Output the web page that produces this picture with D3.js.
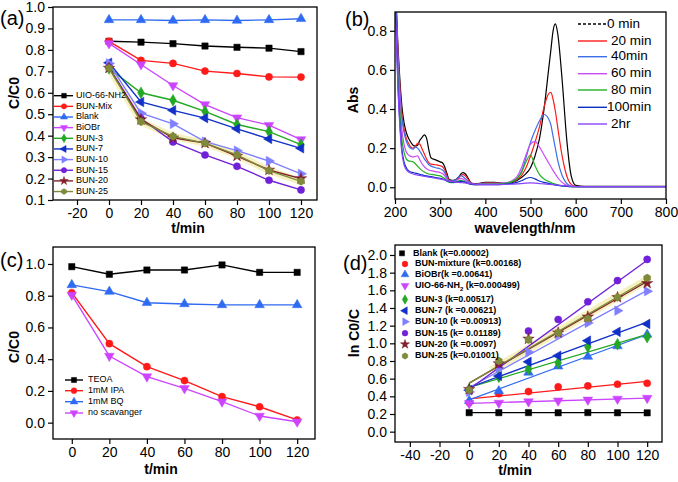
<!DOCTYPE html>
<html><head><meta charset="utf-8">
<script src="https://cdn.jsdelivr.net/npm/d3@7"></script>
<style>body{margin:0;background:#fff}svg{display:block;font-family:Arial,"Liberation Sans",sans-serif}</style>
</head><body><svg id="c" width="678" height="482"></svg>
<script>
// ---------- DATA ----------
const times = [0, 20, 40, 60, 80, 100, 120];

// panel (a)
const namesA = ["UIO-66-NH2","BUN-Mix","Blank","BiOBr","BUN-3","BUN-7","BUN-10","BUN-15","BUN-20","BUN-25"];
const uioA   = [0.840,0.836,0.829,0.818,0.812,0.808,0.792];
const mixA   = [0.840,0.751,0.737,0.701,0.690,0.674,0.673];
const blankA = [0.940,0.940,0.937,0.940,0.937,0.940,0.945];
const biobrA = [0.830,0.732,0.634,0.545,0.484,0.449,0.382];
const bun3A  = [0.714,0.600,0.565,0.513,0.452,0.419,0.358];
const bun7A  = [0.740,0.557,0.518,0.482,0.432,0.385,0.341];
const bun10A = [0.737,0.505,0.455,0.372,0.330,0.282,0.222];
const bun15A = [0.720,0.480,0.371,0.310,0.257,0.192,0.147];
const bun20A = [0.715,0.475,0.390,0.365,0.305,0.240,0.200];
const bun25A = [0.715,0.465,0.397,0.365,0.310,0.237,0.187];
const xTicksA = [-20,0,20,40,60,80,100,120];
const yTicksA = [0.1,0.2,0.3,0.4,0.5,0.6,0.7,0.8,0.9,1.0];

// panel (b)
const namesB = ["0 min","20 min","40min","60 min","80 min","100min","2hr"];
const wl = [200,203,206,210,215,220,225,230,235,240,245,250,255,260,265,270,275,280,290,300,305,310,315,320,330,340,345,350,355,360,370,380,400,420,440,460,470,480,490,500,510,520,530,540,545,550,555,560,570,580,590,600,620,700,800];
const abs0 = [1.0,0.92,0.75,0.58,0.42, 0.33,0.28,0.25,0.23,0.215, 0.21,0.215,0.24,0.255,0.268, 0.25,0.19,0.15,0.14,0.13, 0.125,0.105,0.07,0.04,0.035, 0.05,0.065,0.075,0.07,0.055, 0.02,0.018,0.025,0.025,0.02, 0.025,0.035,0.05,0.07,0.1, 0.16,0.25,0.4,0.6,0.7, 0.8,0.835,0.79,0.55,0.25, 0.06,0.01,0.005,0.005,0.005];
const abs20 = [1.0,0.9,0.72,0.55,0.38, 0.3,0.25,0.225,0.205,0.2, 0.21,0.225,0.22,0.195,0.17, 0.145,0.125,0.118,0.115,0.11, 0.105,0.09,0.06,0.035,0.03, 0.045,0.058,0.065,0.06,0.045, 0.02,0.016,0.022,0.022,0.02, 0.028,0.04,0.06,0.1,0.16, 0.23,0.31,0.41,0.478,0.485, 0.45,0.39,0.31,0.16,0.06, 0.015,0.005,0.003,0.003,0.003];
const abs40 = [1.0,0.88,0.7,0.52,0.36, 0.28,0.235,0.21,0.198,0.195, 0.205,0.2,0.185,0.165,0.145, 0.13,0.115,0.108,0.1,0.095, 0.088,0.075,0.05,0.032,0.033, 0.05,0.06,0.055,0.045,0.035, 0.018,0.015,0.02,0.02,0.02, 0.03,0.045,0.08,0.15,0.23, 0.29,0.34,0.372,0.35,0.32, 0.26,0.2,0.14,0.06,0.02, 0.006,0.003,0.003,0.003,0.003];
const abs60 = [1.0,0.85,0.66,0.48,0.3, 0.22,0.18,0.165,0.158,0.155, 0.158,0.16,0.14,0.12,0.105, 0.095,0.088,0.085,0.08,0.075, 0.07,0.06,0.04,0.028,0.028, 0.04,0.045,0.042,0.035,0.028, 0.016,0.014,0.018,0.018,0.02, 0.035,0.055,0.1,0.165,0.22, 0.235,0.205,0.165,0.125,0.105, 0.085,0.068,0.05,0.025,0.01, 0.004,0.003,0.003,0.003,0.003];
const abs80 = [1.0,0.82,0.6,0.42,0.25, 0.18,0.145,0.135,0.133,0.13, 0.12,0.108,0.095,0.085,0.078, 0.072,0.068,0.066,0.062,0.058, 0.052,0.045,0.032,0.025,0.024, 0.032,0.035,0.033,0.028,0.022, 0.014,0.013,0.016,0.016,0.018, 0.03,0.045,0.075,0.13,0.165, 0.11,0.065,0.042,0.03,0.025, 0.02,0.016,0.012,0.007,0.004, 0.003,0.003,0.003,0.003,0.003];
const abs100 = [1.0,0.8,0.56,0.36,0.2, 0.13,0.1,0.085,0.078,0.075, 0.072,0.07,0.066,0.063,0.06, 0.058,0.056,0.054,0.05,0.046, 0.043,0.038,0.032,0.028,0.025, 0.028,0.03,0.029,0.026,0.022, 0.015,0.013,0.014,0.014,0.015, 0.02,0.025,0.033,0.045,0.05, 0.043,0.032,0.025,0.02,0.017, 0.014,0.012,0.01,0.007,0.005, 0.003,0.003,0.003,0.003,0.003];
const abs120 = [1.0,0.78,0.54,0.34,0.18, 0.115,0.09,0.078,0.072,0.068, 0.065,0.062,0.06,0.058,0.056, 0.054,0.052,0.05,0.046,0.042, 0.04,0.037,0.034,0.031,0.027, 0.025,0.024,0.023,0.022,0.02, 0.017,0.015,0.013,0.013,0.014, 0.016,0.017,0.019,0.021,0.022, 0.021,0.019,0.017,0.015,0.014, 0.013,0.012,0.011,0.009,0.007, 0.005,0.004,0.003,0.003,0.003];
const xTicksB = [200,300,400,500,600,700,800];
const yTicksB = [0.0,0.2,0.4,0.6,0.8];

// panel (c)
const namesC = ["TEOA","1mM IPA","1mM BQ","no scavanger"];
const teoaC = [0.983,0.935,0.962,0.962,0.994,0.947,0.947];
const ipaC  = [0.819,0.498,0.353,0.265,0.164,0.100,0.017];
const bqC   = [0.868,0.826,0.756,0.748,0.742,0.742,0.742];
const noneC = [0.805,0.420,0.290,0.216,0.132,0.042,0.006];
const xTicksC = [0,20,40,60,80,100,120];
const yTicksC = [0.0,0.2,0.4,0.6,0.8,1.0];

// panel (d)
const namesD = ["Blank (k=0.00002)","BUN-mixture (k=0.00168)","BiOBr(k =0.00641)","UIO-66-NH","BUN-3 (k=0.00517)","BUN-7 (k =0.00621)","BUN-10 (k =0.00913)","BUN-15 (k= 0.01189)","BUN-20 (k =0.0097)","BUN-25 (k=0.01001)"];
const blankD = [0.215,0.215,0.216,0.214,0.216,0.214,0.213];
const mixD   = [0.33,0.43,0.454,0.507,0.518,0.537,0.548];
const biobrD = [0.35,0.46,0.67,0.74,0.85,0.97,1.10];
const uioD   = [0.32,0.325,0.34,0.35,0.36,0.37,0.38];
const bun3D  = [0.48,0.62,0.71,0.78,0.96,0.99,1.07];
const bun7D  = [0.47,0.63,0.79,0.86,1.03,1.13,1.22];
const bun10D = [0.45,0.72,0.90,1.10,1.23,1.37,1.59];
const bun15D = [0.47,0.76,1.14,1.27,1.47,1.71,1.95];
const bun20D = [0.48,0.77,1.05,1.12,1.30,1.52,1.68];
const bun25D = [0.47,0.80,1.04,1.12,1.28,1.52,1.74];
const fitStartD = [0.215,0.37,0.36,0.32,0.50,0.50,0.50,0.48,0.55,0.55];
const fitEndD   = [0.215,0.57,1.10,0.38,1.10,1.24,1.60,1.94,1.70,1.72];
const xTicksD = [-40,-20,0,20,40,60,80,100,120];
const yTicksD = [0.0,0.2,0.4,0.6,0.8,1.0,1.2,1.4,1.6,1.8,2.0];

// ---------- STYLE ----------
const C = {black:"#000000", red:"#ff1a1a", blue:"#2f6bf2", mag:"#cc44ff", green:"#22a822",
  navy:"#1030c8", lilac:"#7f7fff", purple:"#7020d8", wine:"#801f2a", olive:"#7f8a3a"};

const svg = d3.select("#c");

const hexagon = {draw(ctx, size){const r=Math.sqrt(size/2.6);for(let i=0;i<6;i++){const a=Math.PI/3*i+Math.PI/6;const px=r*Math.cos(a),py=r*Math.sin(a);i?ctx.lineTo(px,py):ctx.moveTo(px,py);}ctx.closePath();}};
function sym(type){
  const m = {
    square:[d3.symbolSquare,0], circle:[d3.symbolCircle,0], up:[d3.symbolTriangle,0],
    down:[d3.symbolTriangle,180], diamond:[d3.symbolDiamond,0], left:[d3.symbolTriangle,-90],
    right:[d3.symbolTriangle,90], star:[d3.symbolStar,0], hex:[hexagon,0]};
  return m[type];
}
function drawSym(g, type, cx, cy, color, size){
  const [t, rot] = sym(type);
  g.append("path").attr("d", d3.symbol(t, size)())
    .attr("transform", `translate(${cx},${cy}) rotate(${rot})`)
    .attr("fill", color).attr("stroke", color).attr("stroke-width", 0.5);
}

function axes(g, x, y, xt, xm, yt, ym, fx, fy){
  const [y0] = y.range(); const [x0] = x.range();
  const gx = g.append("g").attr("transform", `translate(0,${y0})`);
  gx.call(d3.axisBottom(x).tickValues(xm).tickSize(3).tickFormat("")).call(s=>s.select(".domain").remove());
  gx.call(d3.axisBottom(x).tickValues(xt).tickSize(5).tickPadding(3).tickFormat(fx))
    .call(s=>s.select(".domain").remove());
  const gy = g.append("g").attr("transform", `translate(${x0},0)`);
  gy.call(d3.axisLeft(y).tickValues(ym).tickSize(3).tickFormat("")).call(s=>s.select(".domain").remove());
  gy.call(d3.axisLeft(y).tickValues(yt).tickSize(5).tickPadding(3).tickFormat(fy))
    .call(s=>s.select(".domain").remove());
  g.selectAll(".tick line").attr("stroke","#000").attr("stroke-width",1.2);
  g.selectAll(".tick text").attr("font-size",14).attr("font-family","Arial, 'Liberation Sans', sans-serif").attr("fill","#000");
  const xr = x.range(), yr = y.range();
  g.append("rect").attr("x", xr[0]).attr("y", yr[1]).attr("width", xr[1]-xr[0]).attr("height", yr[0]-yr[1])
    .attr("fill","none").attr("stroke","#000").attr("stroke-width",1.3);
}
function title(g, txt, x, y, rot){
  const t = g.append("text").attr("x",x).attr("y",y).attr("text-anchor","middle").attr("font-weight","bold")
    .attr("font-size",14).attr("dominant-baseline","middle").text(txt);
  if (rot) t.attr("transform", `rotate(-90,${x},${y})`);
}
function label(txt, x, y){
  svg.append("text").attr("x",x).attr("y",y).attr("font-size",20).text(txt);
}
const f1 = d3.format(".1f");
const fInt = d => String(d);
const minorRange = (a,b,s) => d3.range(a, b+s/2, s);

// ---------- PANEL A ----------
{
  const g = svg.append("g");
  const x = d3.scaleLinear().domain([-35,130]).range([53,317]);
  const y = d3.scaleLinear().domain([0.1,1.0]).range([200,7]);
  const series = [
    [uioA,C.black,"square"],[mixA,C.red,"circle"],[blankA,C.blue,"up"],[biobrA,C.mag,"down"],
    [bun3A,C.green,"diamond"],[bun7A,C.navy,"left"],[bun10A,C.lilac,"right"],[bun15A,C.purple,"circle"],
    [bun20A,C.wine,"star"],[bun25A,C.olive,"hex"]];
  const line = d3.line().x((d,i)=>x(times[i])).y(d=>y(d));
  g.append("path").attr("d", line(bun25A)).attr("fill","none").attr("stroke","#f3eeb0").attr("stroke-width",7).attr("opacity",0.8);
  series.forEach(([v,c,s])=>{
    g.append("path").attr("d", line(v)).attr("fill","none").attr("stroke",c).attr("stroke-width",1.4);
    v.forEach((d,i)=>drawSym(g,s,x(times[i]),y(d),c,40));
  });
  axes(g, x, y, xTicksA, minorRange(-30,120,10), yTicksA, minorRange(0.15,0.95,0.1), fInt, f1);
  const ly0 = 95.7, dy = 10.65;
  series.forEach(([v,c,s],i)=>{
    const yy = ly0 + i*dy;
    g.append("line").attr("x1",54).attr("x2",73).attr("y1",yy).attr("y2",yy).attr("stroke",c).attr("stroke-width",1.4);
    drawSym(g,s,64,yy,c,22);
    g.append("text").attr("x",76).attr("y",yy).attr("dominant-baseline","middle").attr("font-size",9).text(namesA[i]);
  });
  title(g, "C/C0", 15, 93, true);
  title(g, "t/min", 188, 229, false);
  label("(a)", 0, 25);
}

// ---------- PANEL B ----------
{
  const g = svg.append("g");
  const x = d3.scaleLinear().domain([200,800]).range([395,666]);
  const y = d3.scaleLinear().domain([-0.06,0.896]).range([199,12]);
  svg.append("clipPath").attr("id","clipB").append("rect").attr("x",395).attr("y",12).attr("width",271).attr("height",187);
  const curves = [[abs0,"#000000"],[abs20,C.red],[abs40,"#3b6fe8"],[abs60,"#c94cf2"],[abs80,"#22b022"],[abs100,"#0a2fc0"],[abs120,"#8844ff"]];
  const line = d3.line().x((d,i)=>x(wl[i])).y(d=>y(d)).curve(d3.curveMonotoneX);
  const cg = g.append("g").attr("clip-path","url(#clipB)");
  curves.forEach(([v,c])=>{
    cg.append("path").attr("d", line(v)).attr("fill","none").attr("stroke",c).attr("stroke-width",1.2);
  });
  axes(g, x, y, xTicksB, minorRange(250,750,100), yTicksB, minorRange(0.1,0.7,0.2), fInt, f1);
  const ly = [24,41,56.7,73.7,90,107.3,124];
  curves.forEach(([v,c],i)=>{
    const l = g.append("line").attr("x1",578).attr("x2",607).attr("y1",ly[i]).attr("y2",ly[i]).attr("stroke",c).attr("stroke-width",1.4);
    if (i===0) l.attr("stroke-dasharray","3,2");
    g.append("text").attr("x", i===0?607:i===5?607:611).attr("y",ly[i]).attr("dominant-baseline","middle").attr("font-size",13.5).text(namesB[i]);
  });
  title(g, "Abs", 354, 100, true);
  title(g, "wavelength/nm", 525, 229, false);
  label("(b)", 345, 26);
}

// ---------- PANEL C ----------
{
  const g = svg.append("g");
  const x = d3.scaleLinear().domain([-10,129.5]).range([53,315]);
  const y = d3.scaleLinear().domain([-0.103,1.107]).range([439,247]);
  const series = [[teoaC,C.black,"square"],[ipaC,C.red,"circle"],[bqC,"#2f6bf2","up"],[noneC,"#cc44ff","down"]];
  const line = d3.line().x((d,i)=>x(times[i])).y(d=>y(d));
  series.forEach(([v,c,s])=>{
    g.append("path").attr("d", line(v)).attr("fill","none").attr("stroke",c).attr("stroke-width",1.4);
    v.forEach((d,i)=>drawSym(g,s,x(times[i]),y(d),c,40));
  });
  axes(g, x, y, xTicksC, minorRange(-10,130,10), yTicksC, minorRange(-0.1,1.1,0.2), fInt, f1);
  const ly = [380,390.7,401.7,413];
  series.forEach(([v,c,s],i)=>{
    g.append("line").attr("x1",65).attr("x2",83).attr("y1",ly[i]).attr("y2",ly[i]).attr("stroke",c).attr("stroke-width",1.4);
    drawSym(g,s,74,ly[i],c,26);
    g.append("text").attr("x",88).attr("y",ly[i]).attr("dominant-baseline","middle").attr("font-size",9).text(namesC[i]);
  });
  title(g, "C/C0", 15, 347, true);
  title(g, "t/min", 161, 470, false);
  label("(c)", 0, 267);
}

// ---------- PANEL D ----------
{
  const g = svg.append("g");
  const x = d3.scaleLinear().domain([-50,130]).range([395,662]);
  const y = d3.scaleLinear().domain([-0.117,2.113]).range([442,245]);
  const series = [
    [blankD,C.black,"square"],[mixD,C.red,"circle"],[biobrD,"#2f6bf2","up"],[uioD,"#cc44ff","down"],
    [bun3D,C.green,"diamond"],[bun7D,C.navy,"left"],[bun10D,C.lilac,"right"],[bun15D,C.purple,"circle"],
    [bun20D,C.wine,"star"],[bun25D,C.olive,"hex"]];
  g.append("line").attr("x1",x(15)).attr("x2",x(120)).attr("y1",y(0.55+(1.72-0.55)*15/120)).attr("y2",y(1.72))
    .attr("stroke","#f3eeb0").attr("stroke-width",8).attr("opacity",0.8);
  series.forEach(([v,c,s],k)=>{
    g.append("line").attr("x1",x(0)).attr("x2",x(120)).attr("y1",y(fitStartD[k])).attr("y2",y(fitEndD[k]))
      .attr("stroke",c).attr("stroke-width",1.3);
  });
  series.forEach(([v,c,s])=>{
    v.forEach((d,i)=>drawSym(g,s,x(times[i]),y(d),c,40));
  });
  axes(g, x, y, xTicksD, minorRange(-50,130,10), yTicksD, minorRange(0.1,1.9,0.2), fInt, f1);
  const ly = [253.3,264,274.5,285.7,299.5,310.7,321.7,333.2,344.3,356];
  series.forEach(([v,c,s],i)=>{
    drawSym(g,s,i===0?402:405,ly[i],c,26);
    const t = g.append("text").attr("x",i===0?413:415).attr("y",ly[i]).attr("dominant-baseline","middle")
      .attr("font-size",9).attr("font-weight","bold");
    if (i===3){
      t.append("tspan").text("UIO-66-NH");
      t.append("tspan").attr("font-size",6).attr("dy",3).text("2");
      t.append("tspan").attr("dy",-3).text(" (k=0.000499)");
    } else t.text(namesD[i]);
  });
  title(g, "ln C0/C", 355, 333, true);
  title(g, "t/min", 515, 471, false);
  label("(d)", 343, 270);
}
</script></body></html>
